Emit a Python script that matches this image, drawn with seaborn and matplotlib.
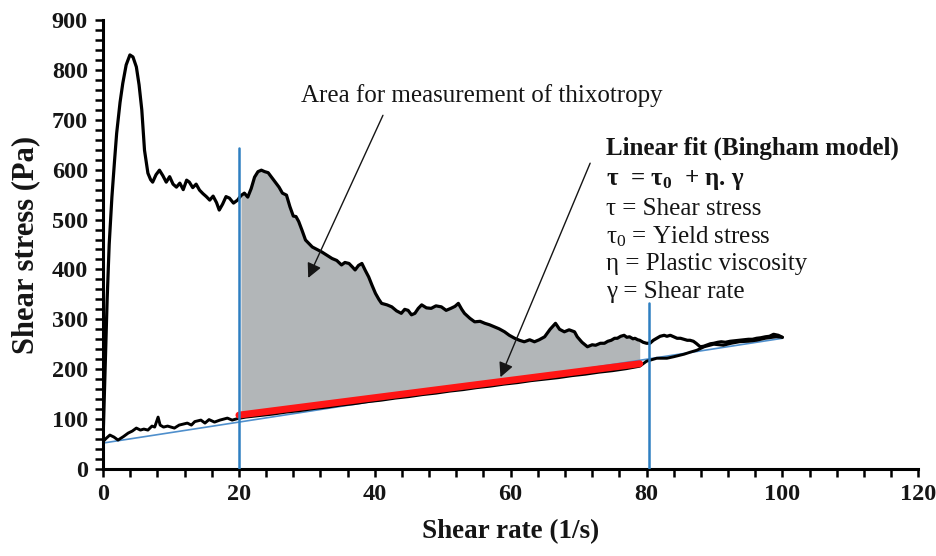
import numpy as np
import pandas as pd
import matplotlib
matplotlib.use("Agg")
import matplotlib.pyplot as plt
from matplotlib.ticker import MultipleLocator
import seaborn as sns

# ---------------- data ----------------
up_rate = [0, 0.3, 0.6, 0.9, 1.3, 1.7, 2.0, 2.5, 2.9, 3.4, 3.95, 4.4, 4.9, 5.3, 5.7, 6.1, 6.6,
           7.0, 7.3, 7.8, 8.3, 8.8, 9.3, 9.8, 10.3, 10.8, 11.3, 11.8, 12.3, 12.7, 13.2, 13.7,
           14.2, 14.7, 15.2, 15.7, 16.2, 16.7, 17.1, 17.6, 18.1, 18.6, 19.2, 19.8, 20.3, 20.8,
           21.3, 21.8, 22.3, 22.8, 23.3, 23.8, 24.3, 24.8, 25.3, 25.9, 26.4, 27.0, 27.5, 28.0,
           28.4, 28.8, 29.3, 29.8, 30.3, 30.8, 31.5, 32.2, 33.0, 33.7, 34.4, 35.1, 35.6, 36.2,
           36.7, 37.1, 37.6, 38.1, 38.6, 39.1, 39.6, 40.1, 40.6, 41.0, 41.8, 42.5, 43.2, 43.9,
           44.4, 44.9, 45.4, 45.9, 46.4, 46.9, 47.6, 48.3, 49.0, 49.8, 50.5, 51.2, 51.8, 52.3,
           52.8, 53.2, 54.0, 54.7, 55.5, 56.2, 56.9, 57.6, 58.3, 59.1, 59.8, 60.6, 61.3, 62.0,
           62.8, 63.5, 64.2, 65.0, 65.8, 66.6, 67.2, 67.9, 68.6, 69.4, 69.8, 70.5, 71.3, 72.0,
           72.5, 73.2, 73.8, 74.3, 74.8, 75.3, 75.7, 76.2, 76.7, 77.1, 77.5, 78.0, 78.3, 78.7,
           79.0, 79.5, 80.0, 80.5, 81.0, 81.5, 82.0, 82.6, 83.0, 83.5, 84.0, 84.5, 85.0, 85.5,
           86.0, 86.4, 86.9, 87.3, 87.9, 88.4, 88.8, 89.4, 89.9, 90.5, 91.0, 91.6, 92.3, 93.0,
           93.7, 94.3, 95.0, 95.6, 96.2, 96.8, 97.5, 98.1, 98.7, 99.4, 100.0]
up_stress = [60, 200, 340, 450, 545, 620, 673, 735, 773, 810, 830, 826, 806, 770, 720, 639, 593,
             580, 575, 590, 599, 588, 575, 586, 571, 565, 573, 560, 579, 575, 564, 571,
             559, 552, 546, 539, 547, 534, 519, 531, 546, 543, 533, 539, 548, 553,
             545, 562, 585, 596, 599, 596, 594, 585, 576, 565, 553, 549, 526, 507,
             506, 496, 478, 459, 452, 445, 440, 435, 428, 422, 418, 409, 414, 412,
             405, 399, 408, 412, 398, 385, 368, 352, 340, 332, 329, 325, 317, 312,
             320, 318, 309, 312, 322, 329, 323, 322, 327, 325, 318, 322, 326, 332,
             320, 312, 302, 295, 296, 292, 289, 285, 281, 275, 268, 262, 258, 255,
             259, 255, 259, 265, 280, 292, 280, 275, 279, 275, 265, 254, 245, 249,
             248, 252, 252, 256, 258, 262, 262, 266, 268, 264, 265, 261, 262, 259,
             258, 254, 252, 252, 258, 262, 266, 268, 266, 268, 265, 262, 262, 260,
             258, 258, 256, 252, 245, 246, 248, 251, 252, 254, 255, 254, 256, 257,
             258, 259, 260, 260, 262, 263, 265, 266, 270, 268, 264]

down_rate = [0, 0.5, 1.0, 1.6, 2.2, 3.0, 3.7, 4.3, 4.9, 5.5, 6.0, 6.6, 7.2, 7.6, 8.1, 8.4,
             8.9, 9.5, 10.5, 11.2, 12.4, 13.0, 13.5, 14.4, 15.0, 15.6, 16.4, 17.2, 18.3, 19.0,
             19.8, 21, 23, 25, 27, 29, 31, 33, 35, 37, 39, 41, 43, 45, 47, 49, 51, 53, 55,
             57, 59, 61, 63, 65, 67, 69, 71, 73, 75, 77, 79, 80.0, 81.5, 83.0, 84.0, 85.5,
             86.4, 87.4, 88.5, 89.9, 91.3, 92.5, 93.7, 95.0, 96.2, 97.5, 99.1, 100.0]
down_stress = [55, 62, 68, 64, 58, 65, 72, 76, 82, 78, 80, 78, 86, 84, 104, 88,
               84, 86, 82, 88, 92, 88, 95, 98, 92, 99, 94, 98, 102, 98,
               101, 104, 107, 110, 114, 117, 121, 124, 128, 131, 135, 138, 142, 145, 149, 152,
               156, 159, 163, 166, 170, 173, 177, 180, 183, 187, 190, 194, 197, 201, 206,
               216, 222, 222, 225, 230, 234, 238, 245, 250, 248, 252, 255, 256, 258, 262,
               265, 264]

fit_rate = [20, 79]          # red Bingham fit segment
fit_stress = [108, 211]
full_fit_rate = [0, 100]     # thin blue fit line under the down curve
full_fit_stress = [52, 262]
limit_rate = [20, 80.3]      # blue vertical limits
limit_top = [643, 333]

x_ticks = [0, 20, 40, 60, 80, 100, 120]
y_ticks = [0, 100, 200, 300, 400, 500, 600, 700, 800, 900]

# ---------------- styling ----------------
sns.set_theme(style="white")
plt.rcParams["font.family"] = ["Liberation Serif", "DejaVu Serif"]
plt.rcParams["mathtext.fontset"] = "custom"
plt.rcParams["mathtext.rm"] = "Liberation Serif"
plt.rcParams["mathtext.it"] = "Liberation Serif:italic"
plt.rcParams["mathtext.bf"] = "Liberation Serif:bold"

TXT = "#151515"
fig = plt.figure(figsize=(9.37, 5.56), dpi=100)
ax = fig.add_axes([0.110, 0.1565, 0.870, 0.8075])

up = pd.DataFrame({"rate": up_rate, "stress": up_stress})
down = pd.DataFrame({"rate": down_rate, "stress": down_stress})
full_fit = pd.DataFrame({"rate": full_fit_rate, "stress": full_fit_stress})

# grey thixotropy area between up curve and fit line
mask = (up["rate"] >= limit_rate[0]) & (up["rate"] <= fit_rate[1])
fx = up["rate"][mask].to_numpy()
ftop = up["stress"][mask].to_numpy()
fbot = np.interp(fx, fit_rate, fit_stress)
ax.fill_between(fx, fbot, ftop, color="#b2b6b8", lw=0, zorder=1)

sns.lineplot(data=full_fit, x="rate", y="stress", color="#4f8fcc", lw=1.2, ax=ax, zorder=2)
sns.lineplot(data=up, x="rate", y="stress", sort=False, estimator=None,
             color="black", lw=2.3, ax=ax, zorder=3)
sns.lineplot(data=down, x="rate", y="stress", sort=False, estimator=None,
             color="black", lw=2.1, ax=ax, zorder=3)
sns.lineplot(x=fit_rate, y=fit_stress, color="#ff1414", lw=5, ax=ax, zorder=4)
for xr, yt in zip(limit_rate, limit_top):
    ax.plot([xr, xr], [0, yt], color="#2e7fc1", lw=1.8, zorder=5)

# annotations
ax.text(55.7, 749, "Area for measurement of thixotropy", ha="center", va="center",
        fontsize=18, color=TXT)
ax.annotate("", xy=(30.2, 383), xytext=(41.2, 709),
            arrowprops=dict(arrowstyle="-|>", color=TXT, lw=1.0,
                            mutation_scale=22, shrinkA=0, shrinkB=0), zorder=6)
ax.annotate("", xy=(58.5, 184), xytext=(71.7, 613),
            arrowprops=dict(arrowstyle="-|>", color=TXT, lw=1.0,
                            mutation_scale=22, shrinkA=0, shrinkB=0), zorder=6)

bx = 74.0
fs = 18
ax.text(bx, 643, "Linear fit (Bingham model)", fontsize=fs, fontweight="bold",
        va="center", ha="left", color=TXT)
ax.text(bx, 579, r"τ  = $\mathbf{\tau_0}$  + η. γ", fontsize=fs, fontweight="bold",
        va="center", ha="left", color=TXT)
ax.text(bx, 521, "τ = Shear stress", fontsize=fs, va="center", ha="left", color=TXT)
ax.text(bx, 465, r"$\mathrm{\tau}_0$ = Yield stress", fontsize=fs, va="center", ha="left",
        color=TXT)
ax.text(bx, 410, "η = Plastic viscosity", fontsize=fs, va="center", ha="left", color=TXT)
ax.text(bx, 355, "γ = Shear rate", fontsize=fs, va="center", ha="left", color=TXT)

# axes
ax.set_xlim(0, 120)
ax.set_ylim(0, 900)
ax.set_xticks(x_ticks)
ax.set_yticks(y_ticks)
ax.set_xticklabels([str(v) for v in x_ticks], fontsize=17.5, fontweight="bold", color=TXT)
ax.set_yticklabels([str(v) for v in y_ticks], fontsize=17.5, fontweight="bold", color=TXT)
ax.xaxis.set_minor_locator(MultipleLocator(4))
ax.yaxis.set_minor_locator(MultipleLocator(20))
ax.tick_params(which="both", direction="out", color="black", width=1.8)
ax.tick_params(which="major", length=6, pad=5)
ax.tick_params(which="minor", length=6)
ax.tick_params(axis="y", which="both", left=True)
ax.tick_params(axis="x", which="both", bottom=True)
ax.set_xlabel("Shear rate (1/s)", fontsize=19.5, fontweight="bold", labelpad=10, color=TXT)
ax.set_ylabel("Shear stress (Pa)", fontsize=22, fontweight="bold", labelpad=8, color=TXT)
sns.despine(ax=ax)
for s in ["left", "bottom"]:
    ax.spines[s].set_color("black")
    ax.spines[s].set_linewidth(2.2)
ax.grid(False)

fig.savefig("out.png", dpi=100)
